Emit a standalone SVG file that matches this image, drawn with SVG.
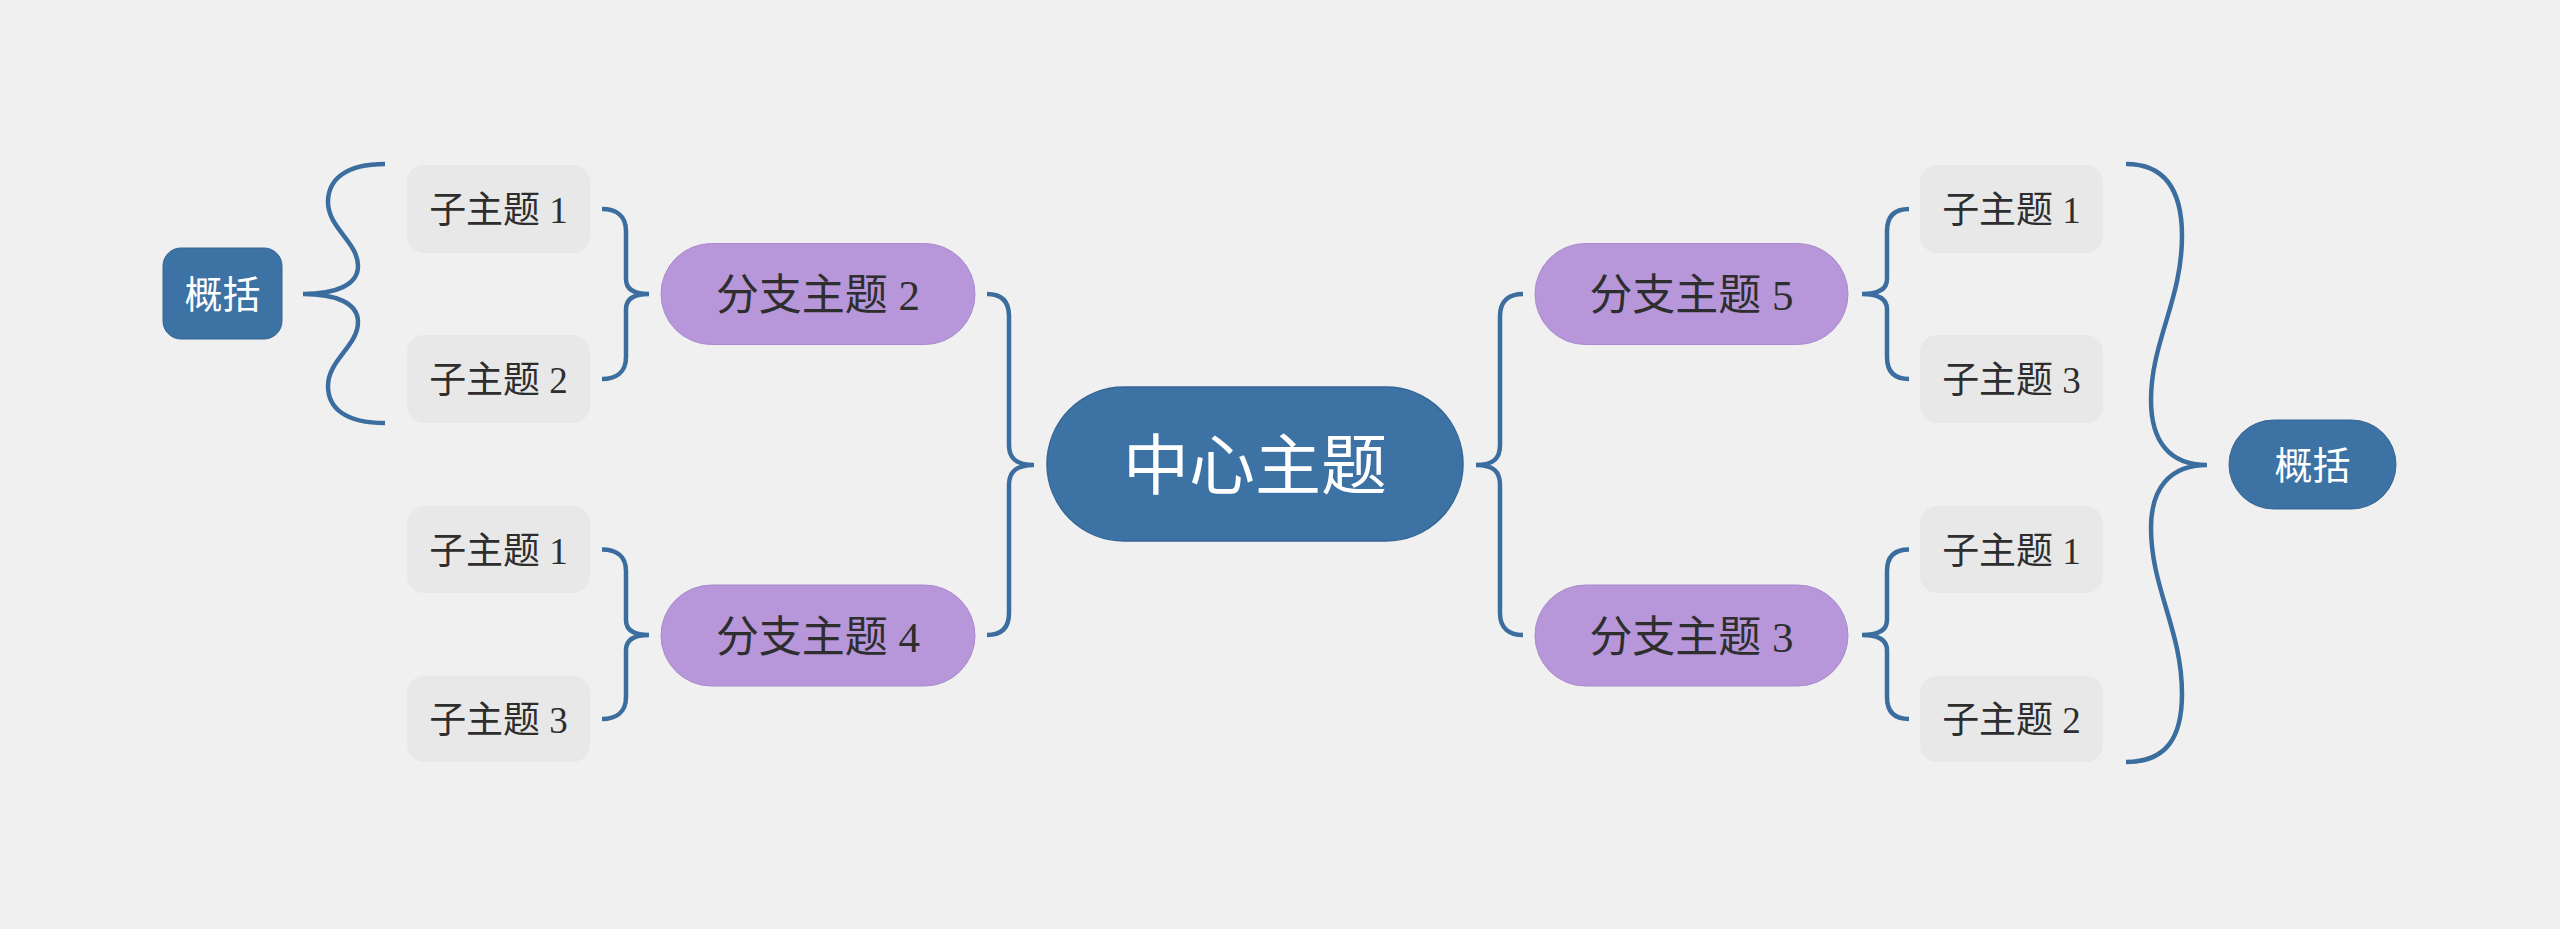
<svg xmlns="http://www.w3.org/2000/svg" width="2560" height="929" viewBox="0 0 2560 929">
<style>
.sub{fill:#e8e8e8}
.br{fill:#b797d9;stroke:#a98bcd;stroke-width:1}
.cen{fill:#3d72a4;stroke:#346594;stroke-width:1.5}
.sum{fill:#3d72a4;stroke:#346594;stroke-width:1}
.con{fill:none;stroke:#3b6e9f;stroke-width:4.5;stroke-linecap:butt}
.t{font-family:"Liberation Serif","Noto Sans CJK SC",serif;fill:#2e2e2e;text-anchor:middle}
.ts{font-size:37px}
.tb{font-size:43px}
.tw{font-family:"Noto Sans CJK SC","Noto Sans",sans-serif;fill:#ffffff;text-anchor:middle}
</style>
<rect x="0" y="0" width="2560" height="929" fill="#f0f0f0"/>
<g id="connectors">
<path class="con" d="M987,294 C1000,294 1009,300 1009,316 L1009,445 C1009,458 1016,465 1034,465 C1016,465 1009,472 1009,485 L1009,613 C1009,629 1000,635 987,635"/>
<path class="con" d="M1523,294 C1510,294 1500,300 1500,316 L1500,445 C1500,458 1494,465 1476,465 C1494,465 1500,472 1500,485 L1500,613 C1500,629 1510,635 1523,635"/>
<path class="con" d="M602,209 C615,209 626,215 626,231 L626,279 C626,288 632,294 649,294 C632,294 626,300 626,309 L626,357 C626,373 615,379 602,379"/>
<path class="con" d="M602,549.5 C615,549.5 626,555 626,571 L626,620 C626,629 632,635 649,635 C632,635 626,641 626,650 L626,697 C626,713 615,719 602,719"/>
<path class="con" d="M1909,209 C1896,209 1887,215 1887,231 L1887,279 C1887,288 1880,294 1862,294 C1880,294 1887,300 1887,309 L1887,357 C1887,373 1896,379 1909,379"/>
<path class="con" d="M1909,549.5 C1896,549.5 1887,555 1887,571 L1887,620 C1887,629 1880,635 1862,635 C1880,635 1887,641 1887,650 L1887,697 C1887,713 1896,719 1909,719"/>
<path class="con" d="M385,164 C345,164 328,180 328,202 C328,228 358,242 358,266 C358,285 336,294 303,294 C336,294 358,303 358,322 C358,346 328,360 328,386 C328,408 345,423 385,423"/>
<path class="con" d="M2126,164 C2166,164 2182,192 2182,236 C2182,300 2151,342 2151,400 C2151,442 2170,465 2207,465 C2170,465 2151,488 2151,528 C2151,588 2182,630 2182,694 C2182,738 2166,762 2126,762"/>
</g>
<g id="center">
<rect class="cen" x="1047" y="387" width="416" height="154" rx="77"/>
<text class="tw" x="1255" y="489" font-size="66">中心主题</text>
</g>
<g id="branch2">
<rect class="br" x="661" y="243.5" width="314" height="101" rx="50.5"/>
<text class="t tb" x="818" y="310">分支主题 2</text>
</g>
<g id="branch4">
<rect class="br" x="661" y="585" width="314" height="101" rx="50.5"/>
<text class="t tb" x="818" y="651.5">分支主题 4</text>
</g>
<g id="branch5">
<rect class="br" x="1535" y="243.5" width="313" height="101" rx="50.5"/>
<text class="t tb" x="1691.5" y="310">分支主题 5</text>
</g>
<g id="branch3">
<rect class="br" x="1535" y="585" width="313" height="101" rx="50.5"/>
<text class="t tb" x="1691.5" y="651.5">分支主题 3</text>
</g>
<g id="left-sub1">
<rect class="sub" x="407" y="165" width="183" height="88" rx="17"/>
<text class="t ts" x="498.5" y="223">子主题 1</text>
</g>
<g id="left-sub2">
<rect class="sub" x="407" y="335" width="183" height="88" rx="17"/>
<text class="t ts" x="498.5" y="393">子主题 2</text>
</g>
<g id="left-sub3">
<rect class="sub" x="407" y="506" width="183" height="87" rx="17"/>
<text class="t ts" x="498.5" y="563.5">子主题 1</text>
</g>
<g id="left-sub4">
<rect class="sub" x="407" y="676" width="183" height="86" rx="17"/>
<text class="t ts" x="498.5" y="733">子主题 3</text>
</g>
<g id="right-sub1">
<rect class="sub" x="1920" y="165" width="183" height="88" rx="17"/>
<text class="t ts" x="2011.5" y="223">子主题 1</text>
</g>
<g id="right-sub2">
<rect class="sub" x="1920" y="335" width="183" height="88" rx="17"/>
<text class="t ts" x="2011.5" y="393">子主题 3</text>
</g>
<g id="right-sub3">
<rect class="sub" x="1920" y="506" width="183" height="87" rx="17"/>
<text class="t ts" x="2011.5" y="563.5">子主题 1</text>
</g>
<g id="right-sub4">
<rect class="sub" x="1920" y="676" width="183" height="86" rx="17"/>
<text class="t ts" x="2011.5" y="733">子主题 2</text>
</g>
<g id="summary-left">
<rect class="sum" x="163" y="248" width="119" height="91" rx="18"/>
<text class="tw" x="222.5" y="308" font-size="38">概括</text>
</g>
<g id="summary-right">
<rect class="sum" x="2229" y="420" width="167" height="89" rx="44.5"/>
<text class="tw" x="2312.5" y="479" font-size="38">概括</text>
</g>
</svg>
